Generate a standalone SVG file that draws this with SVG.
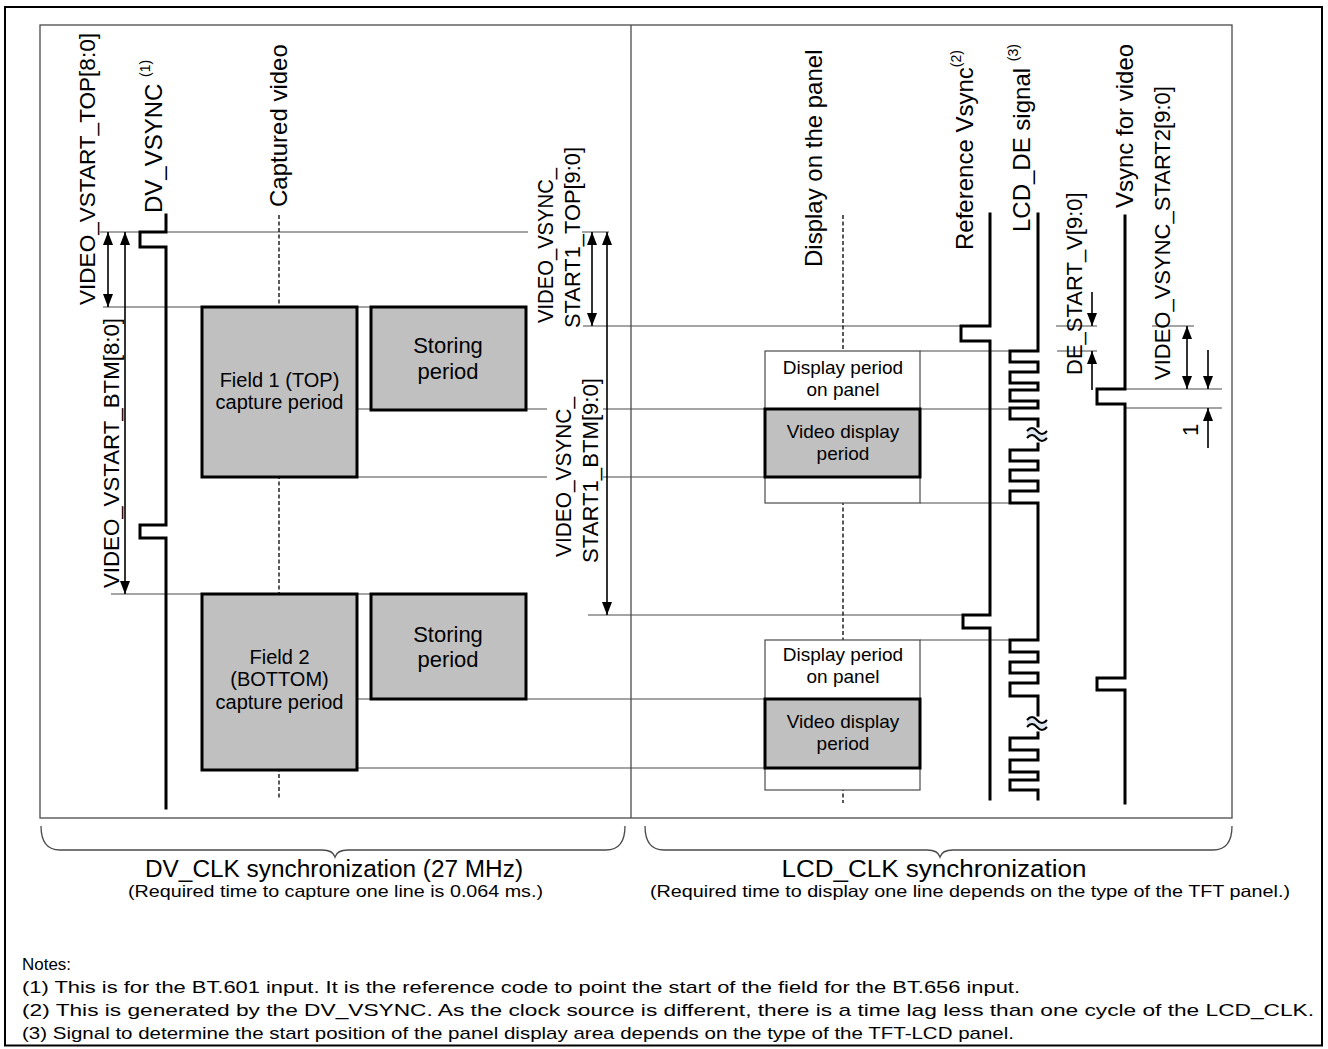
<svg xmlns="http://www.w3.org/2000/svg" width="1328" height="1049" viewBox="0 0 1328 1049">
  <style>
    text { font-family: "Liberation Sans", Arial, sans-serif; fill: #000; }
    .thin { stroke: #4a4a4a; stroke-width: 1.2; fill: none; }
    .frame { stroke: #4a4a4a; stroke-width: 1.3; fill: none; }
    .sig { stroke: #000; stroke-width: 3; fill: none; stroke-linejoin: miter; stroke-linecap: square; }
    .arr { stroke: #000; stroke-width: 1.6; fill: none; }
    .dash { stroke: #000; stroke-width: 1.3; stroke-dasharray: 4 2.5; fill: none; }
    .box { fill: #c0c0c0; stroke: #000; stroke-width: 3; }
    .wbox { fill: #fff; stroke: #4a4a4a; stroke-width: 1.2; }
    .lbl { font-size: 24px; }
    .reg { font-size: 22px; }
    .btxt { font-size: 20px; text-anchor: middle; }
    .stxt { font-size: 22px; text-anchor: middle; }
    .dtxt { font-size: 19px; text-anchor: middle; }
    .sup { font-size: 14px; }
    .title { font-size: 23px; text-anchor: middle; }
    .sub { font-size: 16.5px; text-anchor: middle; }
    .note { font-size: 17px; }
  </style>
  <defs>
    <marker id="ah" viewBox="0 0 13 10" refX="13" refY="5" markerWidth="13" markerHeight="10" markerUnits="userSpaceOnUse" orient="auto-start-reverse">
      <path d="M0,0 L13,5 L0,10 z" fill="#000"/>
    </marker>
  </defs>

  <!-- outer border and diagram frame -->
  <rect x="5" y="7" width="1317" height="1038.5" fill="#fff" stroke="#000" stroke-width="2"/>
  <rect x="40" y="25" width="1192" height="793" class="frame"/>
  <line x1="631" y1="25" x2="631" y2="818" class="frame"/>

  <!-- timing reference lines -->
  <g id="connectors">
    <path class="thin" d="M100,232 H528 M582,232 H609"/>
    <path class="thin" d="M103,307 H371"/>
    <path class="thin" d="M583,326 H961 M1056,326 H1097 M1152,326 H1194"/>
    <path class="thin" d="M920,351 H1010 M1057,351 H1097"/>
    <path class="thin" d="M1125,389 H1222 M1125,408 H1222"/>
    <path class="thin" d="M357,409 H547 M603,409 H765 M920,409 H1010"/>
    <path class="thin" d="M357,477 H547 M603,477 H765"/>
    <path class="thin" d="M920,503 H1010"/>
    <path class="thin" d="M111,594 H371"/>
    <path class="thin" d="M588,615 H963"/>
    <path class="thin" d="M920,640 H1010"/>
    <path class="thin" d="M357,699 H765"/>
    <path class="thin" d="M357,768 H765"/>

    <!-- dimension arrows -->
    <line class="arr" x1="108" y1="232" x2="108" y2="307" marker-start="url(#ah)" marker-end="url(#ah)"/>
    <line class="arr" x1="125" y1="232" x2="125" y2="594" marker-start="url(#ah)" marker-end="url(#ah)"/>
    <line class="arr" x1="592" y1="232" x2="592" y2="326" marker-start="url(#ah)" marker-end="url(#ah)"/>
    <line class="arr" x1="607" y1="232" x2="607" y2="615" marker-start="url(#ah)" marker-end="url(#ah)"/>
    <line class="arr" x1="1092" y1="292" x2="1092" y2="326" marker-end="url(#ah)"/>
    <line class="arr" x1="1092" y1="390" x2="1092" y2="351" marker-end="url(#ah)"/>
    <line class="arr" x1="1187" y1="326" x2="1187" y2="389" marker-start="url(#ah)" marker-end="url(#ah)"/>
    <line class="arr" x1="1208" y1="350" x2="1208" y2="389" marker-end="url(#ah)"/>
    <line class="arr" x1="1208" y1="448" x2="1208" y2="408" marker-end="url(#ah)"/>

    <!-- dashed centre lines -->
    <line class="dash" x1="279" y1="215" x2="279" y2="800"/>
    <line class="dash" x1="843" y1="215" x2="843" y2="803"/>
  </g>

  <!-- signal waveforms -->
  <g id="dv-vsync">
    <path class="sig" d="M166,215 V232 H140 V247 H166 V525 H140 V538 H166 V808"/>
  </g>
  <g id="ref-vsync">
    <path class="sig" d="M990,214 V326 H961 V341 H990 V615 H963 V628 H990 V799"/>
  </g>
  <g id="lcd-de">
    <path class="sig" d="M1038,214 V351 H1010 V362 H1038 V372 H1010 V383 H1038 V390 H1010 V401 H1038 V408 H1010 V419 H1038 V426"/>
    <path class="sig" d="M1038,444 V450 H1010 V461 H1038 V470 H1010 V481 H1038 V491 H1010 V503 H1038 V640 H1010 V652 H1038 V662 H1010 V673 H1038 V683 H1010 V696 H1038 V715"/>
    <path class="sig" d="M1038,733 V738 H1010 V750 H1038 V760 H1010 V772 H1038 V780 H1010 V790 H1038 V799"/>
    <!-- line-break marks -->
    <path d="M1027,431 q5,-6 10,0 t10,0 v7 q-5,6 -10,0 t-10,0 z" fill="#dfe7f1" stroke="none"/>
    <path d="M1027,431 q5,-6 10,0 t10,0 M1027,438 q5,-6 10,0 t10,0" fill="none" stroke="#000" stroke-width="2"/>
    <path d="M1027,720 q5,-6 10,0 t10,0 v7 q-5,6 -10,0 t-10,0 z" fill="#dfe7f1" stroke="none"/>
    <path d="M1027,720 q5,-6 10,0 t10,0 M1027,727 q5,-6 10,0 t10,0" fill="none" stroke="#000" stroke-width="2"/>
  </g>
  <g id="vsync-video">
    <path class="sig" d="M1125,216 V389 H1097 V404 H1125 V678 H1097 V690 H1125 V803"/>
  </g>

  <!-- capture / storing periods -->
  <g id="field1">
    <rect class="box" x="202" y="307" width="155" height="170"/>
    <text class="btxt" x="279.5" y="387">Field 1 (TOP)</text>
    <text class="btxt" x="279.5" y="409">capture period</text>
  </g>
  <g id="storing1">
    <rect class="box" x="371" y="307" width="155" height="103"/>
    <text class="stxt" x="448" y="352.5">Storing</text>
    <text class="stxt" x="448" y="378.5">period</text>
  </g>
  <g id="field2">
    <rect class="box" x="202" y="594" width="155" height="176"/>
    <text class="btxt" x="279.5" y="663.5">Field 2</text>
    <text class="btxt" x="279.5" y="686">(BOTTOM)</text>
    <text class="btxt" x="279.5" y="708.5">capture period</text>
  </g>
  <g id="storing2">
    <rect class="box" x="371" y="594" width="155" height="105"/>
    <text class="stxt" x="448" y="641.5">Storing</text>
    <text class="stxt" x="448" y="667">period</text>
  </g>

  <!-- panel display periods -->
  <g id="panel1">
    <rect class="wbox" x="765" y="351" width="155" height="152"/>
    <text class="dtxt" x="843" y="374">Display period</text>
    <text class="dtxt" x="843" y="396">on panel</text>
    <rect class="box" x="765" y="409" width="155" height="68"/>
    <text class="dtxt" x="843" y="438">Video display</text>
    <text class="dtxt" x="843" y="460">period</text>
  </g>
  <g id="panel2">
    <rect class="wbox" x="765" y="640" width="155" height="150"/>
    <text class="dtxt" x="843" y="661">Display period</text>
    <text class="dtxt" x="843" y="683">on panel</text>
    <rect class="box" x="765" y="699" width="155" height="69"/>
    <text class="dtxt" x="843" y="728">Video display</text>
    <text class="dtxt" x="843" y="750">period</text>
  </g>

  <!-- rotated signal and register labels -->
  <g id="labels">
    <text class="reg" transform="translate(95,305) rotate(-90)" textLength="272" lengthAdjust="spacingAndGlyphs">VIDEO_VSTART_TOP[8:0]</text>
    <text class="reg" transform="translate(119,588) rotate(-90)" textLength="270" lengthAdjust="spacingAndGlyphs">VIDEO_VSTART_BTM[8:0]</text>
    <text class="lbl" transform="translate(162,213) rotate(-90)">DV_VSYNC <tspan class="sup" dy="-12">(1)</tspan></text>
    <text class="lbl" transform="translate(287,207) rotate(-90)">Captured video</text>
    <text class="reg" transform="translate(553,323) rotate(-90)" textLength="155" lengthAdjust="spacingAndGlyphs">VIDEO_VSYNC_</text>
    <text class="reg" transform="translate(580,328) rotate(-90)" textLength="181" lengthAdjust="spacingAndGlyphs">START1_TOP[9:0]</text>
    <text class="reg" transform="translate(571,557) rotate(-90)" textLength="160" lengthAdjust="spacingAndGlyphs">VIDEO_VSYNC_</text>
    <text class="reg" transform="translate(598,563) rotate(-90)" textLength="185" lengthAdjust="spacingAndGlyphs">START1_BTM[9:0]</text>
    <text class="lbl" transform="translate(822,267) rotate(-90)">Display on the panel</text>
    <text class="lbl" transform="translate(973,250) rotate(-90)">Reference Vsync<tspan class="sup" dy="-12">(2)</tspan></text>
    <text class="lbl" transform="translate(1030,232) rotate(-90)">LCD_DE signal <tspan class="sup" dy="-12">(3)</tspan></text>
    <text class="lbl" transform="translate(1133,208) rotate(-90)">Vsync for video</text>
    <text class="reg" transform="translate(1082,375) rotate(-90)">DE_START_V[9:0]</text>
    <text class="reg" transform="translate(1170,380) rotate(-90)">VIDEO_VSYNC_START2[9:0]</text>
    <text class="reg" transform="translate(1198,436) rotate(-90)">1</text>
  </g>

  <!-- clock domain braces -->
  <g id="dv-clk-domain">
    <path d="M41,826 Q41,850 60,850 H322 Q333,850 335,857 Q337,850 348,850 H606 Q625,850 625,826" fill="none" stroke="#4a4a4a" stroke-width="1.3"/>
    <text class="title" x="334" y="877" textLength="378" lengthAdjust="spacingAndGlyphs">DV_CLK synchronization (27 MHz)</text>
    <text class="sub" x="335.5" y="897" textLength="415" lengthAdjust="spacingAndGlyphs">(Required time to capture one line is 0.064 ms.)</text>
  </g>
  <g id="lcd-clk-domain">
    <path d="M645,826 Q645,850 664,850 H927 Q938,850 940,857 Q942,850 953,850 H1213 Q1232,850 1232,826" fill="none" stroke="#4a4a4a" stroke-width="1.3"/>
    <text class="title" x="934" y="877" textLength="305" lengthAdjust="spacingAndGlyphs">LCD_CLK synchronization</text>
    <text class="sub" x="970" y="897" textLength="640" lengthAdjust="spacingAndGlyphs">(Required time to display one line depends on the type of the TFT panel.)</text>
  </g>

  <!-- footnotes -->
  <g id="notes">
    <text class="note" x="22" y="969.5" textLength="49" lengthAdjust="spacingAndGlyphs">Notes:</text>
    <text class="note" x="22" y="993" textLength="998" lengthAdjust="spacingAndGlyphs">(1) This is for the BT.601 input. It is the reference code to point the start of the field for the BT.656 input.</text>
    <text class="note" x="22" y="1016" textLength="1292" lengthAdjust="spacingAndGlyphs">(2) This is generated by the DV_VSYNC. As the clock source is different, there is a time lag less than one cycle of the LCD_CLK.</text>
    <text class="note" x="22" y="1039" textLength="992" lengthAdjust="spacingAndGlyphs">(3) Signal to determine the start position of the panel display area depends on the type of the TFT-LCD panel.</text>
  </g>
</svg>
